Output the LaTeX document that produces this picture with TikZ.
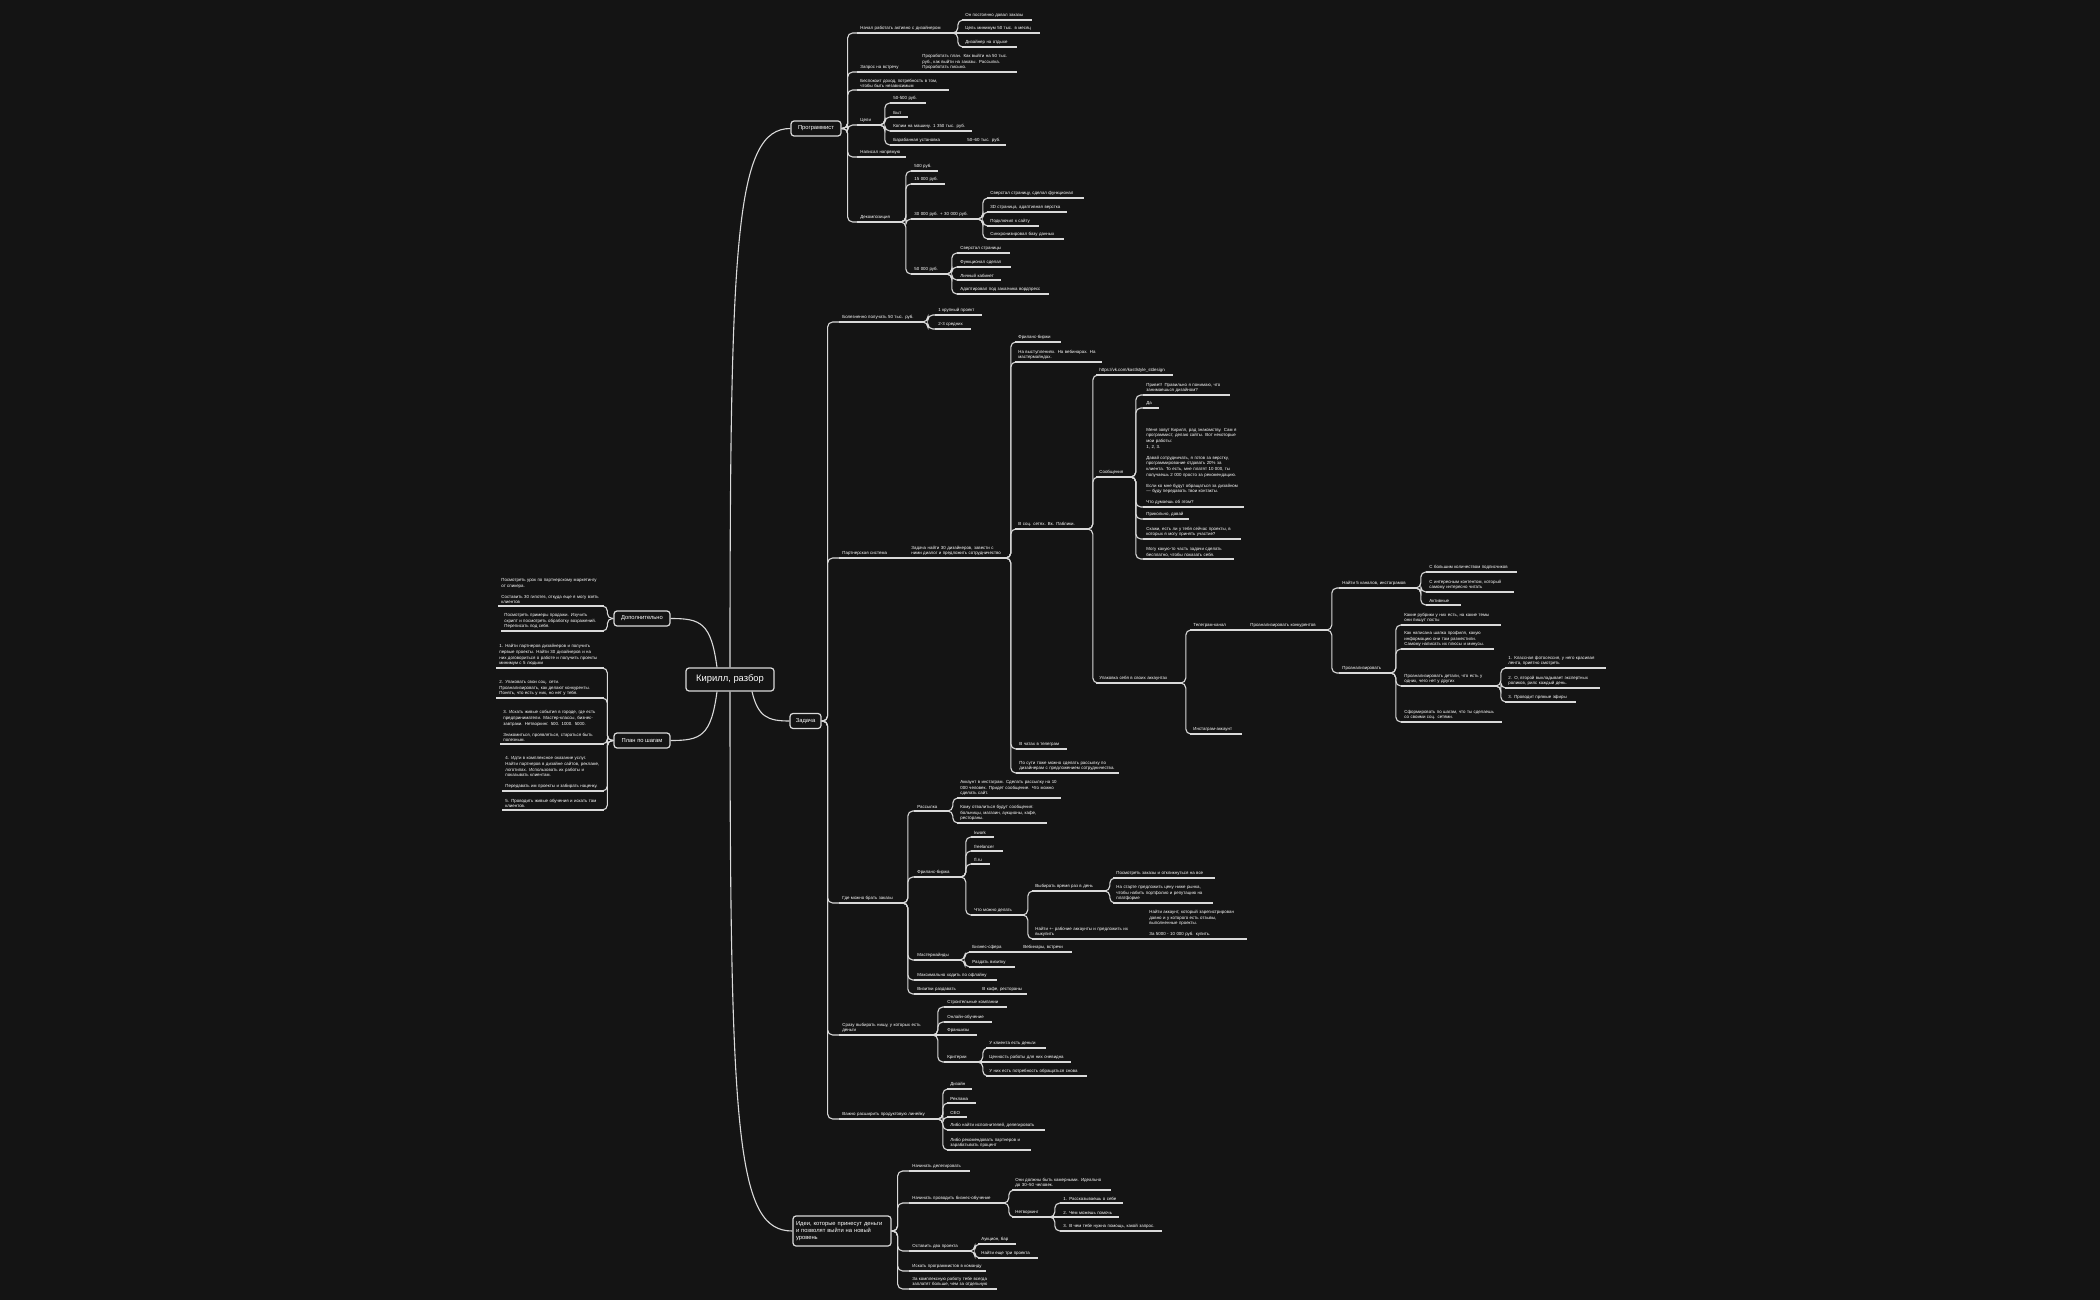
\documentclass[tikz,border=0pt]{standalone}
\usepackage{fontspec}
\setmainfont{Liberation Sans}
\usetikzlibrary{calc}
\definecolor{bg}{HTML}{141414}
\definecolor{ln}{HTML}{DADADA}
\newcommand\nd[5]{\node[leaf,text width=\dimexpr\numexpr#4-#2\relax pt/2\relax] (#1) at (#2-3,#3) {#5};}
\tikzset{
 leaf/.style={anchor=south west,inner xsep=1.5pt,inner ysep=0.9pt,align=left,text=white,
   font=\fontsize{2.2}{2.85}\selectfont,
   append after command={(\tikzlastnode.south west) edge[conn] (\tikzlastnode.south east)}},
 conn/.style={draw=ln,line width=0.55pt},
 elbow/.style={conn,rounded corners=2.5pt},
 box/.style={draw=ln,line width=0.6pt,rounded corners=1.5pt,fill=bg,text=white,align=center,
   font=\fontsize{2.9}{3.6}\selectfont,inner sep=1.5pt,minimum height=7.5pt}
}
\begin{document}
\begin{tikzpicture}[x=0.5pt,y=-0.5pt]
\useasboundingbox[fill=bg] (0,0) rectangle (2100,1300);
% boxes
\node[box,minimum width=44pt,minimum height=11.5pt,font=\fontsize{4.7}{5.5}\selectfont] (root) at (730,679.5) {Кирилл, разбор};
\node[box,minimum width=25pt] (prog) at (816,128.5) {Программист};
\node[box,minimum width=15.5pt] (zad) at (805.5,721) {Задача};
\node[box,minimum width=28pt] (dop) at (642,618.5) {Дополнительно};
\node[box,minimum width=28pt] (plan) at (642,740.5) {План по шагам};
\node[box,text width=46pt,align=left,minimum height=15pt] (idei) at (842,1231) {Идеи, которые принесут деньги и позволят выйти на новый уровень};
\draw[conn] (root.north) .. controls +(0,-430) and +(-55,0) .. (prog.west);
\draw[conn] (root.south) .. controls +(0,450) and +(-55,0) .. (idei.west);
\draw[conn] ($(root.south)+(22,0)$) .. controls +(6,25) and +(-22,0) .. (zad.west);
\draw[conn] ($(root.north)+(-13,0)$) .. controls +(-6,-45) and +(30,0) .. (dop.east);
\draw[conn] ($(root.south)+(-13,0)$) .. controls +(-6,45) and +(30,0) .. (plan.east);
% Программист
\nd{p1}{860}{33}{950}{Начал работать активно с дизайнером}
\nd{p1a}{965}{20}{1028}{Он постоянно давал заказы}
\nd{p1b}{965}{33}{1036}{Цель минимум 50 тыс. в месяц}
\nd{p1c}{965}{47}{1013}{Дизайнер на отдыхе}
\nd{p2}{860}{72}{916}{Запрос на встречу}
\nd{p2a}{922}{72}{1013}{Проработать план. Как выйти на 50 тыс. руб., как выйти на заказы. Рассылка. Проработать письмо.}
\nd{p3}{860}{90}{945}{Беспокоит доход, потребность в том, чтобы быть независимым}
\nd{p4}{860}{125}{877}{Цели}
\nd{p4a}{893}{103}{922}{50-500 руб.}
\nd{p4b}{893}{117}{904}{Быт}
\nd{p4c}{893}{131}{968}{Копим на машину. 1 350 тыс. руб.}
\nd{p4d}{893}{145}{958}{Барабанная установка}
\nd{p4d1}{967}{145}{1002}{50–60 тыс. руб.}
\nd{p5}{860}{157}{902}{Написал напрямую}
\nd{p6}{860}{222}{898}{Декомпозиция}
\nd{p6a}{914}{171}{934}{500 руб.}
\nd{p6b}{914}{184}{941}{15 000 руб.}
\nd{p6c}{914}{219}{975}{30 000 руб. + 30 000 руб.}
\nd{p6d}{914}{274}{944}{50 000 руб.}
\nd{p6c1}{990}{198}{1080}{Сверстал страницу, сделал функционал}
\nd{p6c2}{990}{212}{1063}{3D страница, адаптивная верстка}
\nd{p6c3}{990}{226}{1035}{Подключил к сайту}
\nd{p6c4}{990}{239}{1060}{Синхронизировал базу данных}
\nd{p6d1}{960}{253}{1006}{Сверстал страницы}
\nd{p6d2}{960}{267}{1007}{Функционал сделал}
\nd{p6d3}{960}{280}{997}{Личный кабинет}
\nd{p6d4}{960}{294}{1045}{Адаптировал под заказчика вордпресс}
% Задача
\nd{z1}{842}{322}{920}{Болезненно получать 50 тыс. руб.}
\nd{z1a}{938}{315}{978}{1 крупный проект}
\nd{z1b}{938}{329}{967}{2-3 средних}
\nd{z2}{842}{558}{900}{Партнерская система}
\nd{z2a}{911}{558}{1003}{Задача найти 30 дизайнеров, завести с ними диалог и предложить сотрудничество}
\nd{s1}{1018}{342}{1057}{Фриланс-биржи}
\nd{s2}{1018}{362}{1098}{На выступлениях. На вебинарах. На мастермайндах.}
\nd{s3}{1018}{529}{1085}{В соц. сетях. Вк. Паблики.}
\nd{s4}{1019}{749}{1063}{В чатах в телеграм}
\nd{s5}{1019}{773}{1115}{По сути тоже можно сделать рассылку по дизайнерам с предложением сотрудничества.}
\nd{v1}{1099}{375}{1169}{https://vk.com/kastlstyle\_stdesign}
\nd{v2}{1099}{477}{1128}{Сообщения}
\nd{v3}{1099}{683}{1178}{Упаковка себя в своих аккаунтах}
\nd{m1}{1146}{395}{1226}{Привет! Правильно я понимаю, что занимаешься дизайном?}
\nd{m2}{1146}{408}{1155}{Да}
\nd{m3}{1146}{507}{1240}{Меня зовут Кирилл, рад знакомству. Сам я программист, делаю сайты. Вот некоторые мои работы:\\1, 2, 3.\\[2.6pt]Давай сотрудничать, я готов за верстку, программирование отдавать 20\% за клиента. То есть, мне платят 10 000, ты получаешь 2 000 просто за рекомендацию.\\[2.6pt]Если ко мне будут обращаться за дизайном — буду передавать твои контакты.\\[2.6pt]Что думаешь об этом?}
\nd{m4}{1146}{519}{1185}{Прикольно, давай}
\nd{m5}{1146}{539}{1237}{Скажи, есть ли у тебя сейчас проекты, в которых я могу принять участие?}
\nd{m6}{1146}{559}{1230}{Могу какую-то часть задачи сделать бесплатно, чтобы показать себя.}
\nd{t1}{1193}{630}{1238}{Телеграм-канал}
\nd{t2}{1193}{734}{1238}{Инстаграм-аккаунт}
\nd{t1a}{1250}{630}{1324}{Проанализировать конкурентов}
\nd{k1}{1342}{588}{1413}{Найти 5 каналов, инстаграмов}
\nd{k2}{1342}{673}{1388}{Проанализировать}
\nd{k1a}{1429}{572}{1513}{С большим количеством подписчиков}
\nd{k1b}{1429}{592}{1510}{С интересным контентом, который самому интересно читать}
\nd{k1c}{1429}{605}{1457}{Активные}
\nd{k2a}{1404}{625}{1497}{Какие рубрики у них есть, на какие темы они пишут посты}
\nd{k2b}{1404}{649}{1490}{Как написана шапка профиля, какую информацию они там разместили. Самому написать их плюсы и минусы.}
\nd{k2c}{1404}{686}{1493}{Проанализировать детали, что есть у одних, чего нет у других}
\nd{k2d}{1404}{722}{1498}{Сформировать по шагам, что ты сделаешь со своими соц. сетями.}
\nd{k3a}{1508}{668}{1602}{1. Классная фотосессия, у него красивая лента, приятно смотреть}
\nd{k3b}{1508}{688}{1596}{2. О, второй выкладывает экспертных роликов, рилс каждый день.}
\nd{k3c}{1508}{702}{1572}{3. Проводит прямые эфиры}
\nd{z3}{842}{903}{900}{Где можно брать заказы}
\nd{g1}{917}{811}{945}{Рассылка}
\nd{g1a}{960}{798}{1057}{Аккаунт в инстаграм. Сделать рассылку на 10 000 человек. Придет сообщение. Что можно сделать сайт.}
\nd{g1b}{960}{823}{1043}{Кому отвалиться будут сообщения: больницы, магазин, аукционы, кафе, рестораны.}
\nd{g2}{917}{877}{958}{Фриланс-биржа}
\nd{g2a}{974}{837}{990}{kwork}
\nd{g2b}{974}{851}{999}{freelancer}
\nd{g2c}{974}{864}{986}{fl.ru}
\nd{g2d}{974}{915}{1020}{Что можно делать}
\nd{g3}{1035}{891}{1102}{Выбирать время раз в день}
\nd{g4}{1035}{939}{1130}{Найти +- рабочие аккаунты и предложить их выкупить}
\nd{g3a}{1116}{878}{1211}{Посмотреть заказы и откликнуться на все}
\nd{g3b}{1116}{903}{1209}{На старте предложить цену ниже рынка, чтобы набить портфолио и репутацию на платформе}
\nd{g4a}{1149}{939}{1243}{Найти аккаунт, который зарегистрирован давно и у которого есть отзывы, выполненные проекты.\\[2.6pt]За 5000 - 10 000 руб. купить.}
\nd{g5}{917}{960}{957}{Мастермайнды}
\nd{g5a}{972}{952}{1020}{Бизнес-сфера}
\nd{g5a1}{1023}{952}{1068}{Вебинары, встречи}
\nd{g5b}{972}{967}{1011}{Раздать визитку}
\nd{g6}{917}{980}{993}{Максимально ходить по офлайну}
\nd{g7}{917}{994}{979}{Визитки раздавать}
\nd{g7a}{982}{994}{1023}{В кафе, рестораны}
\nd{z4}{842}{1035}{930}{Сразу выбирать нишу, у которых есть деньги}
\nd{n1}{947}{1007}{1003}{Строительные компании}
\nd{n2}{947}{1022}{988}{Онлайн-обучение}
\nd{n3}{947}{1035}{973}{Франшизы}
\nd{n4}{947}{1062}{975}{Критерии}
\nd{n4a}{989}{1048}{1042}{У клиента есть деньги}
\nd{n4b}{989}{1062}{1067}{Ценность работы для них очевидна}
\nd{n4c}{989}{1076}{1083}{У них есть потребность обращаться снова}
\nd{z5}{842}{1119}{935}{Важно расширить продуктовую линейку}
\nd{r1}{950}{1089}{968}{Дизайн}
\nd{r2}{950}{1103}{972}{Реклама}
\nd{r3}{950}{1117}{963}{СЕО}
\nd{r4}{950}{1130}{1041}{Либо найти исполнителей, делегировать}
\nd{r5}{950}{1150}{1027}{Либо рекомендовать партнеров и зарабатывать процент}
% Идеи
\nd{i1}{912}{1171}{966}{Начинать делегировать}
\nd{i2}{912}{1203}{1001}{Начинать проводить бизнес-обучение}
\nd{i3}{912}{1251}{967}{Оставить два проекта}
\nd{i4}{912}{1271}{982}{Искать программистов в команду}
\nd{i5}{912}{1289}{993}{За комплексную работу тебе всегда заплатят больше, чем за отдельную}
\nd{i2a}{1015}{1190}{1107}{Они должны быть камерными. Идеально до 30–50 человек.}
\nd{i2b}{1015}{1217}{1047}{Нетворкинг}
\nd{i2b1}{1063}{1203}{1119}{1. Рассказываешь о себе}
\nd{i2b2}{1063}{1217}{1115}{2. Чем можешь помочь}
\nd{i2b3}{1063}{1231}{1158}{3. В чем тебе нужна помощь, какой запрос.}
\nd{i3a}{981}{1244}{1012}{Аукцион, бар}
\nd{i3b}{981}{1258}{1034}{Найти еще три проекта}
% left
\nd{d1}{501}{606}{600}{Посмотреть урок по партнерскому маркетингу от спикера.\\[2.6pt]Составить 30 гипотез, откуда еще я могу взять клиентов}
\nd{d2}{504}{631}{600}{Посмотреть примеры продажи. Изучить скрипт и посмотреть обработку возражений. Переписать под себя.}
\nd{l1}{499}{668}{600}{1. Найти партнеров дизайнеров и получить первые проекты.  Найти 30 дизайнеров и на них договориться о работе и получить проекты минимум с 5 людьми}
\nd{l2}{499}{698}{600}{2. Упаковать свои соц. сети. Проанализировать, как делают конкуренты. Понять, что есть у них, но нет у тебя.}
\nd{l3}{503}{744}{600}{3. Искать живые события в городе, где есть предприниматели. Мастер-классы, бизнес-завтраки. Нетворкинг. 500. 1000. 5000.\\[2.6pt]Знакомиться, проявляться, стараться быть полезным.}
\nd{l4}{505}{791}{600}{4. Идти в комплексное оказание услуг. Найти партнеров в дизайне сайтов, рекламе, логотипах. Использовать их работы и показывать клиентам.\\[2.6pt]Передавать им проекты и забирать наценку.}
\nd{l5}{505}{810}{600}{5. Проводить живые обучения и искать там клиентов.}
% connectors
\foreach \b in {p1,p2,p3,p4,p5,p6} \draw[elbow] (prog.east) -- ++(6,0) |- (\b.south west);
\foreach \b in {z1,z2,z3,z4,z5} \draw[elbow] (zad.east) -- ++(6,0) |- (\b.south west);
\foreach \b in {i1,i2,i3,i4,i5} \draw[elbow] (idei.east) -- ++(6,0) |- (\b.south west);
\foreach \b in {d1,d2} \draw[elbow] (dop.west) -- ++(-6,0) |- (\b.south east);
\foreach \b in {l1,l2,l3,l4,l5} \draw[elbow] (plan.west) -- ++(-6,0) |- (\b.south east);
\foreach \a/\b in {p1/p1a,p1/p1c,p4/p4a,p4/p4b,p4/p4c,p4/p4d,
  p6/p6a,p6/p6b,p6/p6c,p6/p6d,p6c/p6c1,p6c/p6c2,p6c/p6c3,p6c/p6c4,p6d/p6d1,p6d/p6d2,p6d/p6d3,p6d/p6d4,
  z1/z1a,z1/z1b,z2a/s1,z2a/s2,z2a/s3,z2a/s4,z2a/s5,s3/v1,s3/v2,s3/v3,
  v2/m1,v2/m2,v2/m3,v2/m4,v2/m5,v2/m6,v3/t1,v3/t2,t1a/k1,t1a/k2,k1/k1a,k1/k1b,k1/k1c,
  k2/k2a,k2/k2b,k2/k2c,k2/k2d,k2c/k3a,k2c/k3b,k2c/k3c,
  z3/g1,z3/g2,z3/g5,z3/g6,z3/g7,g1/g1a,g1/g1b,g2/g2a,g2/g2b,g2/g2c,g2/g2d,g2d/g3,g2d/g4,
  g3/g3a,g3/g3b,g5/g5a,g5/g5b,
  z4/n1,z4/n2,z4/n4,n4/n4a,n4/n4c,z5/r1,z5/r2,z5/r3,z5/r4,z5/r5,
  i2/i2a,i2/i2b,i2b/i2b1,i2b/i2b3,i3/i3a,i3/i3b}
  \draw[elbow] (\a.south east) -- ++(4,0) |- (\b.south west);
\foreach \a/\b in {p1/p1b,p2/p2a,p4d/p4d1,z2/z2a,t1/t1a,g4/g4a,g5a/g5a1,g7/g7a,z4/n3,n4/n4b,i2b/i2b2}
  \draw[conn] (\a.south east) -- (\a.south east -| \b.south west);
\end{tikzpicture}
\end{document}
